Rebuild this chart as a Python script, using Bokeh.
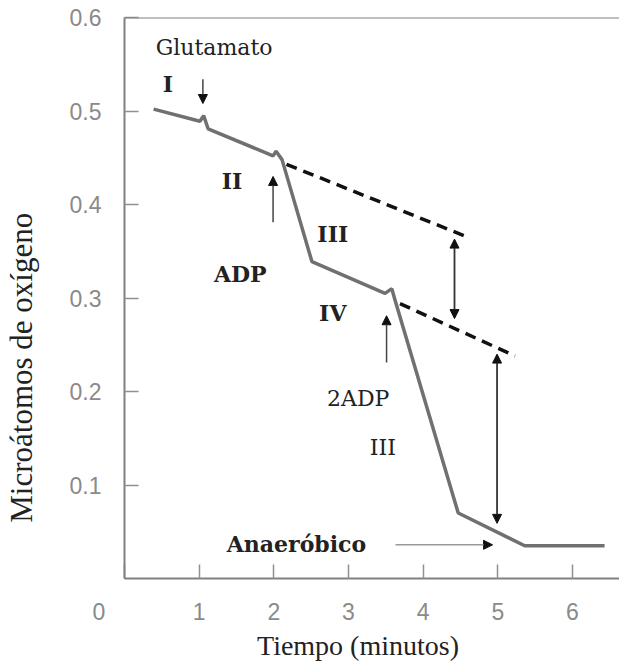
import math
from bokeh.plotting import figure
from bokeh.models import Range1d, FixedTicker, Span, Label, Arrow, NormalHead, Title
from bokeh.embed import file_html
from bokeh.resources import INLINE

# ---- data ----
time_min = [0.39, 1.01, 1.06, 1.12, 1.99, 2.03, 2.11, 2.51, 3.49, 3.58, 3.63, 4.47, 5.36, 6.43]
oxygen = [0.502, 0.489, 0.495, 0.481, 0.452, 0.457, 0.448, 0.339, 0.305, 0.310, 0.296, 0.070, 0.035, 0.035]

dash1_x = [2.17, 4.60]
dash1_y = [0.443, 0.365]
dash2_x = [3.69, 5.23]
dash2_y = [0.294, 0.238]

x_ticks = [0, 1, 2, 3, 4, 5, 6]
y_ticks = [0.1, 0.2, 0.3, 0.4, 0.5, 0.6]

x_title = "Tiempo (minutos)"
y_title = "Microátomos de oxígeno"

ann_text = ["Glutamato", "I", "II", "ADP", "III", "IV", "2ADP", "III", "Anaeróbico"]
ann_x = [1.20, 0.58, 1.44, 1.55, 2.79, 2.79, 3.13, 3.46, 1.37]
ann_y = [0.568, 0.529, 0.425, 0.326, 0.368, 0.284, 0.192, 0.140, 0.037]
ann_bold = [False, True, True, True, True, True, False, False, True]

# single arrows: (x_start, y_start) -> (x_end, y_end)
arrows_x0 = [1.05, 1.99, 3.51, 3.63]
arrows_y0 = [0.534, 0.381, 0.231, 0.036]
arrows_x1 = [1.05, 1.99, 3.51, 4.93]
arrows_y1 = [0.508, 0.430, 0.281, 0.036]

# double-headed arrows
darrows_x = [4.42, 4.99]
darrows_y0 = [0.278, 0.059]
darrows_y1 = [0.363, 0.240]

SERIF = "DejaVu Serif"
TSERIF = "Liberation Serif"
SANS = "Liberation Sans"
NB = "\u00a0"

p = figure(width=619, height=661, output_backend="svg", toolbar_location=None,
           x_range=Range1d(0, 6.63), y_range=Range1d(0, 0.6),
           min_border_left=124, min_border_right=0, min_border_top=17,
           min_border_bottom=83)
p.outline_line_color = None
p.grid.visible = False
p.background_fill_color = "white"

for ax in (p.xaxis[0], p.yaxis[0]):
    ax.axis_line_color = "#808080"
    ax.axis_line_width = 2
    ax.major_tick_line_color = "#909090"
    ax.major_tick_line_width = 1.5
    ax.major_tick_in = 14
    ax.major_tick_out = 0
    ax.minor_tick_line_color = None
    ax.major_label_text_font = SANS
    ax.major_label_text_font_size = "23px"
    ax.major_label_text_color = "#8a8a8a"
    ax.major_label_standoff = 23

p.xaxis.major_label_standoff = 20
p.xaxis.ticker = FixedTicker(ticks=x_ticks)
p.yaxis.ticker = FixedTicker(ticks=y_ticks)
p.xaxis.major_label_overrides = {0: "0" + NB * 8}
p.yaxis.major_label_overrides = {t: f"{t:.1f}" for t in y_ticks}

# x title below the axis
p.add_layout(Title(text=x_title + NB * 4, text_font=TSERIF, text_font_size="28px",
                   text_font_style="normal", text_color="#222222", align="center",
                   standoff=0, text_line_height=0.9), "below")

# y title as axis label
p.yaxis.axis_label = y_title + NB * 18
p.yaxis.axis_label_text_font = TSERIF
p.yaxis.axis_label_text_font_style = "normal"
p.yaxis.axis_label_text_color = "#222222"
p.yaxis.axis_label_text_font_size = "31px"
p.yaxis.axis_label_standoff = 28

p.add_layout(Span(location=0.6, dimension="width", line_color="#808080", line_width=2))

# main curve
p.line(time_min, oxygen, line_color="#707070", line_width=3.5)
# extrapolation dashed lines
p.line(dash1_x, dash1_y, line_color="#111111", line_width=3.5, line_dash="11 7")
p.line(dash2_x, dash2_y, line_color="#111111", line_width=3.5, line_dash="11 7")

for i in range(len(arrows_x0)):
    col = "#999999" if i == 3 else "#444444"
    p.add_layout(Arrow(x_start=arrows_x0[i], y_start=arrows_y0[i],
                       x_end=arrows_x1[i], y_end=arrows_y1[i],
                       line_color=col, line_width=1.5,
                       end=NormalHead(size=9, fill_color="#111111", line_color="#111111")))
for i in range(len(darrows_x)):
    p.add_layout(Arrow(x_start=darrows_x[i], y_start=darrows_y0[i],
                       x_end=darrows_x[i], y_end=darrows_y1[i],
                       line_color="#333333", line_width=1.8,
                       start=NormalHead(size=9, fill_color="#111111", line_color="#111111"),
                       end=NormalHead(size=9, fill_color="#111111", line_color="#111111")))

for t, x, y, b in zip(ann_text, ann_x, ann_y, ann_bold):
    align = "left" if t == "Anaeróbico" else "center"
    p.add_layout(Label(x=x, y=y, text=t, text_font=SERIF, text_font_size="22px",
                       text_font_style="bold" if b else "normal",
                       text_color="#222222", text_align=align, text_baseline="middle"))

open("out.html", "w").write(file_html(p, INLINE))
